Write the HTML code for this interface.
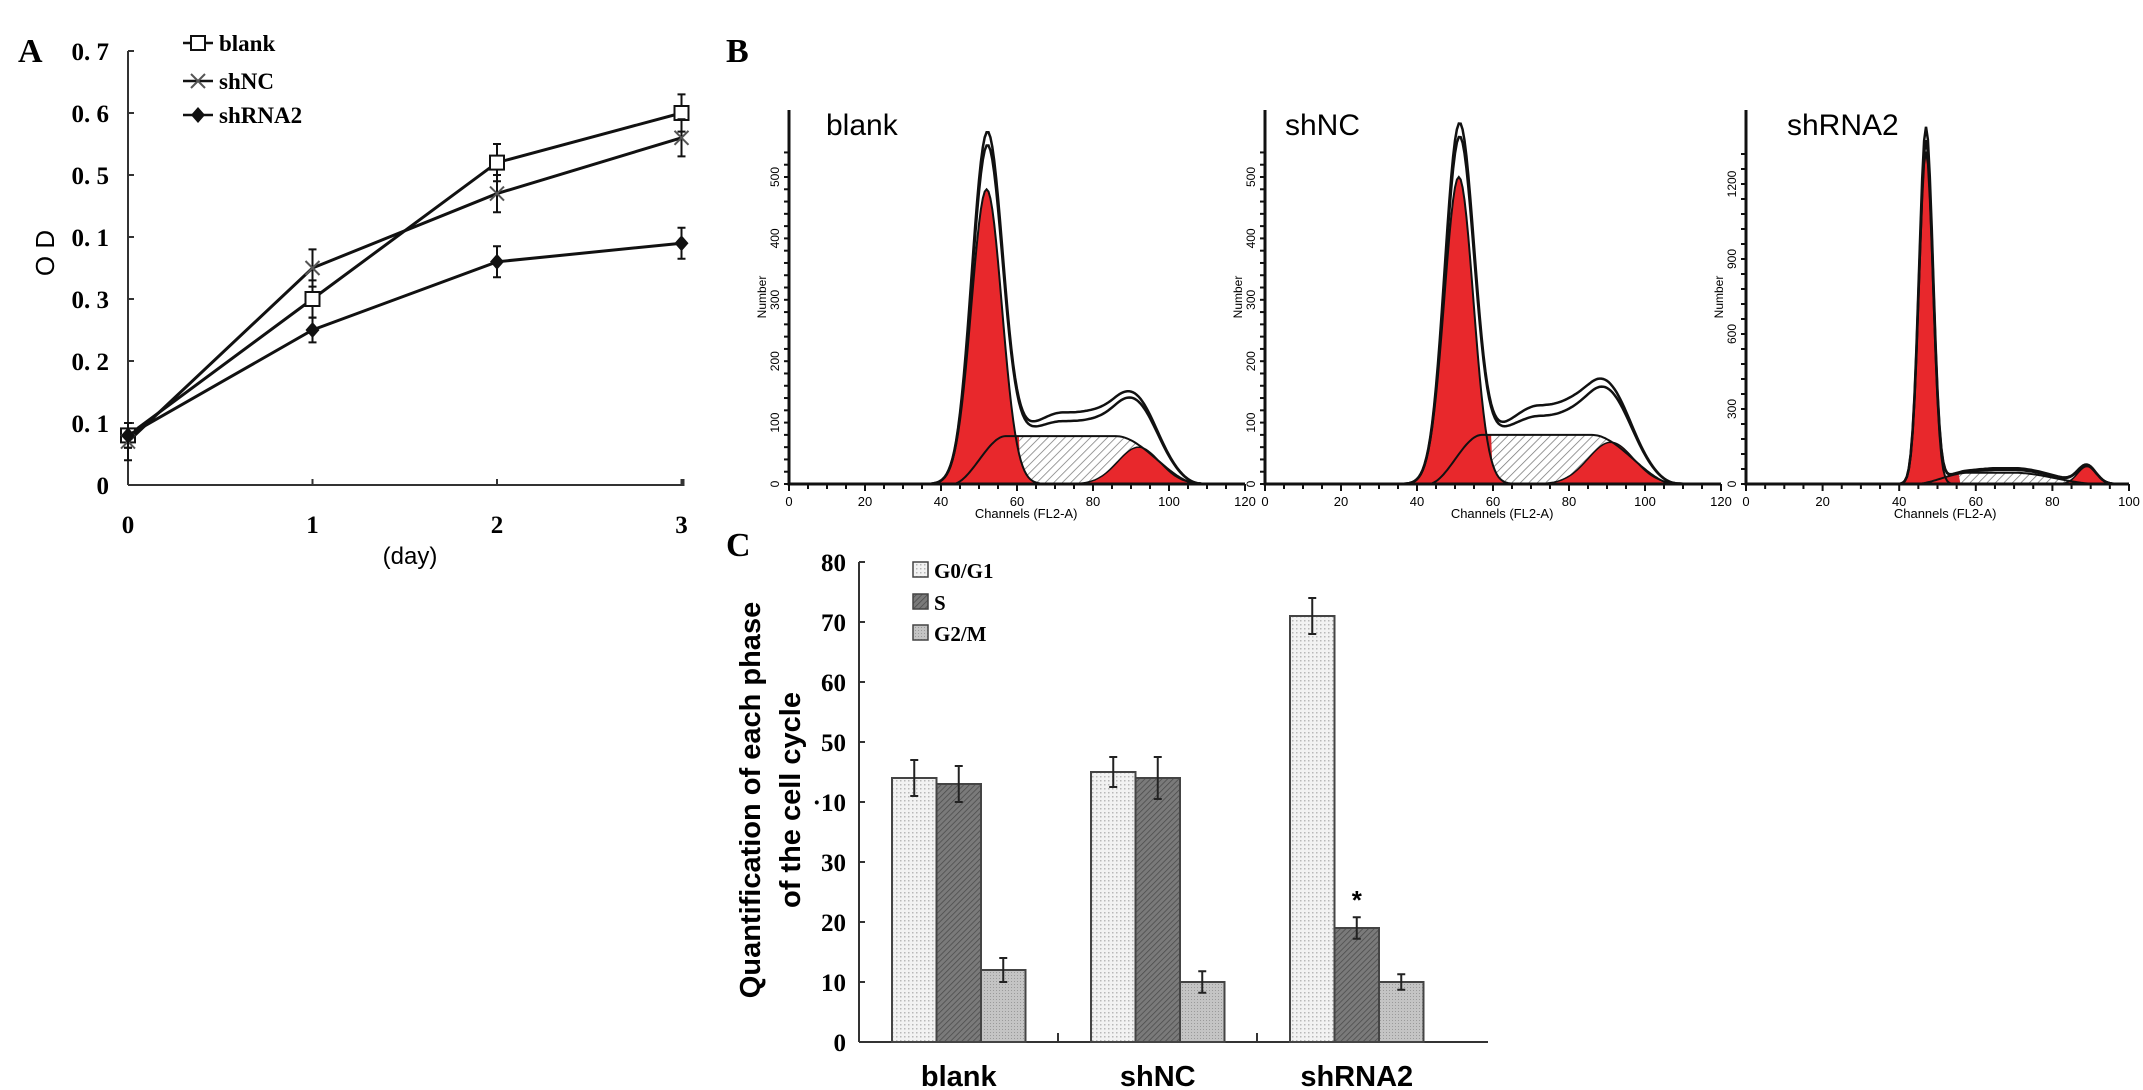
<!DOCTYPE html>
<html><head><meta charset="utf-8"><style>
html,body{margin:0;padding:0;background:#fff;}
svg{display:block;}
.serif{font-family:"Liberation Serif",serif;font-weight:bold;}
.sans{font-family:"Liberation Sans",sans-serif;}
</style></head><body>
<svg id="fig" width="2143" height="1090" viewBox="0 0 2143 1090" xmlns="http://www.w3.org/2000/svg">
<defs>
<pattern id="hatchS" width="6" height="6" patternUnits="userSpaceOnUse" patternTransform="rotate(45)"><rect width="6" height="6" fill="#fff"/><line x1="0" y1="0" x2="0" y2="6" stroke="#777" stroke-width="1.5"/></pattern>
<pattern id="dotG1" width="4" height="4" patternUnits="userSpaceOnUse"><rect width="4" height="4" fill="#f2f2f2"/><rect width="1.5" height="1.5" fill="#b8b8b8"/></pattern>
<pattern id="darkS" width="4" height="4" patternUnits="userSpaceOnUse" patternTransform="rotate(45)"><rect width="4" height="4" fill="#7a7a7a"/><line x1="0" y1="0" x2="0" y2="4" stroke="#4a4a4a" stroke-width="1.5"/></pattern>
<pattern id="greyG2" width="3" height="3" patternUnits="userSpaceOnUse"><rect width="3" height="3" fill="#c4c4c4"/><rect width="1" height="1" fill="#9a9a9a"/></pattern>
</defs>
<g id="panelA"></g>
<g id="panelB"></g>
<g id="panelC"></g>
</svg>
<script>
// ---------- Panel A data ----------
const days = [0, 1, 2, 3];
const blankOD = [0.08, 0.30, 0.52, 0.60];
const shNCOD = [0.07, 0.35, 0.47, 0.56];
const shRNA2OD = [0.08, 0.25, 0.36, 0.39];
const blankErr = [0.02, 0.03, 0.03, 0.03];
const shNCErr = [0.03, 0.03, 0.03, 0.03];
const shRNA2Err = [0.02, 0.02, 0.025, 0.025];
const odTicks = ["0", "0.1", "0.2", "0.3", "0.4", "0.5", "0.6", "0.7"];
const odTickLabels = ["0", "0. 1", "0. 2", "0. 3", "0. 1", "0. 5", "0. 6", "0. 7"];
const dayLabels = ["0", "1", "2", "3"];

// ---------- Panel B data (fitted components: [center channel, sigma, peak count]) ----------
const histNames = ["blank", "shNC", "shRNA2"];
const histXMax = [120, 120, 100];
const histYMax = [500, 500, 1200];
const histYStep = [100, 100, 300];
const g1Peaks = [[52, 4.0, 480], [51, 3.8, 500], [47, 1.8, 1330]];
const g2Peaks = [[92, 5.5, 60], [91, 6.0, 68], [89, 2.4, 70]];
const sPhase = [[43, 108, 78], [43, 108, 80], [44, 92, 45]];
const envelopeBoost = [[58, 100, 22], [58, 100, 28], [52, 92, 10]];

// ---------- Panel C data ----------
const groups = ["blank", "shNC", "shRNA2"];
const phases = ["G0/G1", "S", "G2/M"];
const g0g1Vals = [44, 45, 71];
const sVals = [43, 44, 19];
const g2mVals = [12, 10, 10];
const g0g1Err = [3, 2.5, 3];
const sErr = [3, 3.5, 1.8];
const g2mErr = [2, 1.8, 1.3];
const pctTicks = [0, 10, 20, 30, 40, 50, 60, 70, 80];
const pctTickLabels = ["0", "10", "20", "30", "·10", "50", "60", "70", "80"];

const NS = "http://www.w3.org/2000/svg";
function mk(parent, tag, attrs, text) {
  const e = document.createElementNS(NS, tag);
  for (const k in attrs) e.setAttribute(k, attrs[k]);
  if (text !== undefined) e.textContent = text;
  parent.appendChild(e);
  return e;
}

// ================= Panel A =================
(function () {
  const g = document.getElementById('panelA');
  const x0 = 128, dx = 184.5, y0 = 485, pxPerUnit = 620;
  const X = d => x0 + d * dx;
  const Y = v => y0 - v * pxPerUnit;
  const lbl = mk(g, 'text', {x: 18, y: 62, class: 'serif', 'font-size': 34}, 'A');
  
  
  const yAxis = mk(g, 'line', {x1: x0, y1: Y(0.7), x2: x0, y2: y0, stroke: '#333', 'stroke-width': 2});
  
  
  const xAxis = mk(g, 'path', {d: `M${x0},${y0} H${X(3) + 2} V${y0 - 6}`, stroke: '#333', 'stroke-width': 2, fill: 'none'});
  
  
  odTicks.forEach((t, i) => {
    const v = parseFloat(t);
    mk(g, 'line', {x1: x0, y1: Y(v), x2: x0 + 6, y2: Y(v), stroke: '#333', 'stroke-width': 2});
    const tl = mk(g, 'text', {x: 109, y: Y(v) + 9, 'text-anchor': 'end', class: 'serif', 'font-size': 25}, odTickLabels[i]);
    
    
  });
  days.forEach((d, i) => {
    if (i > 0) mk(g, 'line', {x1: X(d), y1: y0, x2: X(d), y2: y0 - 6, stroke: '#333', 'stroke-width': 2});
    const tl = mk(g, 'text', {x: X(d), y: 533, 'text-anchor': 'middle', class: 'serif', 'font-size': 25}, dayLabels[i]);
    
    
  });
  const xt = mk(g, 'text', {x: 410, y: 564, 'text-anchor': 'middle', class: 'sans', 'font-size': 24}, '(day)');
  
  
  const yt = mk(g, 'text', {x: 0, y: 0, transform: 'translate(54,253) rotate(-90)', 'text-anchor': 'middle', class: 'sans', 'font-size': 26}, 'O D');
  
  

  const series = [
    {name: 'blank', vals: blankOD, err: blankErr, m: 'square'},
    {name: 'shNC', vals: shNCOD, err: shNCErr, m: 'cross'},
    {name: 'shRNA2', vals: shRNA2OD, err: shRNA2Err, m: 'diamond'}
  ];
  function marker(parent, m, cx, cy) {
    if (m === 'square') return mk(parent, 'rect', {x: cx - 7, y: cy - 7, width: 14, height: 14, fill: '#fff', stroke: '#111', 'stroke-width': 2});
    if (m === 'cross') return mk(parent, 'path', {d: `M${cx-7},${cy-7}L${cx+7},${cy+7}M${cx+7},${cy-7}L${cx-7},${cy+7}`, stroke: '#555', 'stroke-width': 2});
    return mk(parent, 'path', {d: `M${cx},${cy-8}L${cx+7},${cy}L${cx},${cy+8}L${cx-7},${cy}Z`, fill: '#111'});
  }
  series.forEach(s => {
    const sg = mk(g, 'g', {});
    
    
    const pts = s.vals.map((v, i) => `${X(days[i])},${Y(v)}`).join(' ');
    const line = mk(sg, 'polyline', {points: pts, fill: 'none', stroke: '#111', 'stroke-width': 3});
    
    
    s.vals.forEach((v, i) => {
      const cx = X(days[i]), e = s.err[i];
      const eb = mk(sg, 'path', {d: `M${cx},${Y(v+e)}V${Y(v-e)}M${cx-4},${Y(v+e)}H${cx+4}M${cx-4},${Y(v-e)}H${cx+4}`, stroke: '#111', 'stroke-width': 2, fill: 'none'});
      
      
      const mm = marker(sg, s.m, cx, Y(v));
      
      
    });
  });
  const legY = [43, 81, 115];
  series.forEach((s, i) => {
    const lg = mk(g, 'g', {});
    
    
    mk(lg, 'line', {x1: 183, y1: legY[i], x2: 213, y2: legY[i], stroke: '#111', 'stroke-width': 2.5});
    marker(lg, s.m, 198, legY[i]);
    mk(lg, 'text', {x: 219, y: legY[i] + 8, class: 'serif', 'font-size': 23}, s.name);
  });
})();

// ================= Panel B =================
(function () {
  const g = document.getElementById('panelB');
  const bl = mk(g, 'text', {x: 726, y: 62, class: 'serif', 'font-size': 34}, 'B');
  
  
  const originX = [789, 1265, 1746];
  const widthPx = [456, 456, 383];
  const base = 484, topY = 110;
  const yPx = [307, 307, 300];
  const titleX = [826, 1285, 1787];
  function gauss(x, p) { return p[2] * Math.exp(-0.5 * Math.pow((x - p[0]) / p[1], 2)); }
  function sCurve(x, p) {
    const a = p[0], b = p[1], h = p[2];
    if (x <= a || x >= b) return 0;
    const up = Math.min(1, (x - a) / 14), dn = Math.min(1, (b - x) / 22);
    const sm = t => t * t * (3 - 2 * t);
    return h * sm(up) * sm(dn);
  }
  histNames.forEach((name, k) => {
    const hg = mk(g, 'g', {});
    
    
    const ox = originX[k], xmax = histXMax[k], ymax = histYMax[k];
    const X = c => ox + c / xmax * widthPx[k];
    const Yk = n => base - n * (yPx[k] / (ymax === 1200 ? 1200 : 500));
    const t = mk(hg, 'text', {x: titleX[k], y: 135, class: 'sans', 'font-size': 30}, name);
    
    
    const steps = [];
    for (let c = 0; c <= xmax; c += 0.5) steps.push(c);
    const g1 = c => gauss(c, g1Peaks[k]);
    const g2 = c => gauss(c, g2Peaks[k]);
    const s = c => sCurve(c, sPhase[k]);
    const extra = c => sCurve(c, envelopeBoost[k]);
    const tot = c => g1(c) + g2(c) + s(c);
    const area = f => `M${X(0)},${base} ` + steps.map(c => `L${X(c).toFixed(1)},${Yk(f(c)).toFixed(1)}`).join(' ') + ` L${X(xmax)},${base} Z`;
    const line = f => 'M' + steps.map(c => `${X(c).toFixed(1)},${Yk(f(c)).toFixed(1)}`).join(' L');
    const sa = mk(hg, 'path', {d: area(s), fill: 'url(#hatchS)', stroke: 'none'});
    
    
    mk(hg, 'path', {d: area(c => (c < g1Peaks[k][0] + 9) ? s(c) : 0), fill: '#d8262b', stroke: 'none'});
    const r1 = mk(hg, 'path', {d: area(g1), fill: '#e8282c', stroke: '#111', 'stroke-width': 2});
    
    
    const r2 = mk(hg, 'path', {d: area(g2), fill: '#e8282c', stroke: '#111', 'stroke-width': 1.5});
    
    
    mk(hg, 'path', {d: line(s), fill: 'none', stroke: '#111', 'stroke-width': 2});
    const env = mk(hg, 'path', {d: line(c => tot(c) * 1.03 + extra(c)), fill: 'none', stroke: '#111', 'stroke-width': 2.5});
    
    
    mk(hg, 'path', {d: line(c => tot(c) * 1.07 + extra(c) * 1.5), fill: 'none', stroke: '#111', 'stroke-width': 2.5});
    const ax = mk(hg, 'path', {d: `M${ox},${topY} V${base} H${X(xmax)}`, fill: 'none', stroke: '#111', 'stroke-width': 3});
    
    
    const yStepMinor = histYStep[k] / 5;
    for (let n = 0; n <= ymax + histYStep[k] * 0.4; n += yStepMinor) {
      const y = Yk(n);
      if (y < topY) break;
      mk(hg, 'line', {x1: ox - 5, y1: y, x2: ox, y2: y, stroke: '#111', 'stroke-width': 2});
    }
    for (let n = 0; n <= ymax; n += histYStep[k]) {
      const tl = mk(hg, 'text', {transform: `translate(${ox - 10},${Yk(n)}) rotate(-90)`, 'text-anchor': 'middle', class: 'sans', 'font-size': 12}, String(n));
      
      
    }
    for (let c = 0; c <= xmax; c += 5) {
      mk(hg, 'line', {x1: X(c), y1: base, x2: X(c), y2: base + (c % 20 === 0 ? 7 : 5), stroke: '#111', 'stroke-width': 2});
    }
    for (let c = 0; c <= xmax; c += 20) {
      const tl = mk(hg, 'text', {x: X(c), y: base + 22, 'text-anchor': 'middle', class: 'sans', 'font-size': 13}, String(c));
      
      
    }
    const xl = mk(hg, 'text', {x: X(xmax * 0.52), y: base + 34, 'text-anchor': 'middle', class: 'sans', 'font-size': 13}, 'Channels (FL2-A)');
    
    
    const yl = mk(hg, 'text', {transform: `translate(${ox - 23},297) rotate(-90)`, 'text-anchor': 'middle', class: 'sans', 'font-size': 12}, 'Number');
    
    
  });
})();

// ================= Panel C =================
(function () {
  const g = document.getElementById('panelC');
  const x0 = 859, y0 = 1042, ppu = 6.0, bw = 44.5, gStart = 892, gStep = 199;
  const Y = v => y0 - v * ppu;
  const cl = mk(g, 'text', {x: 726, y: 556, class: 'serif', 'font-size': 34}, 'C');
  
  
  const ya = mk(g, 'line', {x1: x0, y1: Y(80), x2: x0, y2: y0, stroke: '#333', 'stroke-width': 2});
  
  
  const xa = mk(g, 'line', {x1: x0, y1: y0, x2: 1488, y2: y0, stroke: '#333', 'stroke-width': 2});
  
  
  pctTicks.forEach((t, i) => {
    mk(g, 'line', {x1: x0, y1: Y(t), x2: x0 + 6, y2: Y(t), stroke: '#333', 'stroke-width': 2});
    const tl = mk(g, 'text', {x: 846, y: Y(t) + 9, 'text-anchor': 'end', class: 'serif', 'font-size': 25}, pctTickLabels[i]);
    
    
  });
  const yt = mk(g, 'text', {transform: 'translate(760,800) rotate(-90)', 'text-anchor': 'middle', class: 'sans', 'font-size': 29, 'font-weight': 'bold'}, 'Quantification of each phase');
  
  
  const yt2 = mk(g, 'text', {transform: 'translate(800,800) rotate(-90)', 'text-anchor': 'middle', class: 'sans', 'font-size': 29, 'font-weight': 'bold'}, 'of the cell cycle');
  
  
  const fills = ['url(#dotG1)', 'url(#darkS)', 'url(#greyG2)'];
  const vals = [g0g1Vals, sVals, g2mVals];
  const errs = [g0g1Err, sErr, g2mErr];
  groups.forEach((grp, gi) => {
    const gx = gStart + gi * gStep;
    vals.forEach((arr, pi) => {
      const v = arr[gi], e = errs[pi][gi];
      const bx = gx + pi * bw;
      const r = mk(g, 'rect', {x: bx, y: Y(v), width: bw, height: v * ppu, fill: fills[pi], stroke: '#444', 'stroke-width': 2});
      
      
      const cx = bx + bw / 2;
      const eb = mk(g, 'path', {d: `M${cx},${Y(v+e)}V${Y(v-e)}M${cx-4},${Y(v+e)}H${cx+4}M${cx-4},${Y(v-e)}H${cx+4}`, stroke: '#222', 'stroke-width': 2, fill: 'none'});
      
      
    });
    const gl = mk(g, 'text', {x: gx + 1.5 * bw, y: 1086, 'text-anchor': 'middle', class: 'sans', 'font-size': 29, 'font-weight': 'bold'}, grp);
    
    
    if (gi < groups.length - 1) mk(g, 'line', {x1: gx + 166, y1: y0, x2: gx + 166, y2: y0 - 9, stroke: '#333', 'stroke-width': 2});
  });
  const star = mk(g, 'text', {x: gStart + 2 * gStep + 1.5 * bw, y: Y(sVals[2] + sErr[2]) - 8, 'text-anchor': 'middle', class: 'sans', 'font-size': 26, 'font-weight': 'bold'}, '*');
  
  
  const legY = [570, 602, 633];
  phases.forEach((p, i) => {
    const lg = mk(g, 'g', {});
    
    
    mk(lg, 'rect', {x: 913, y: legY[i] - 8, width: 15, height: 15, fill: fills[i], stroke: '#444', 'stroke-width': 1.5});
    mk(lg, 'text', {x: 934, y: legY[i] + 8, class: 'serif', 'font-size': 21}, p);
  });
})();
</script>
</body></html>
